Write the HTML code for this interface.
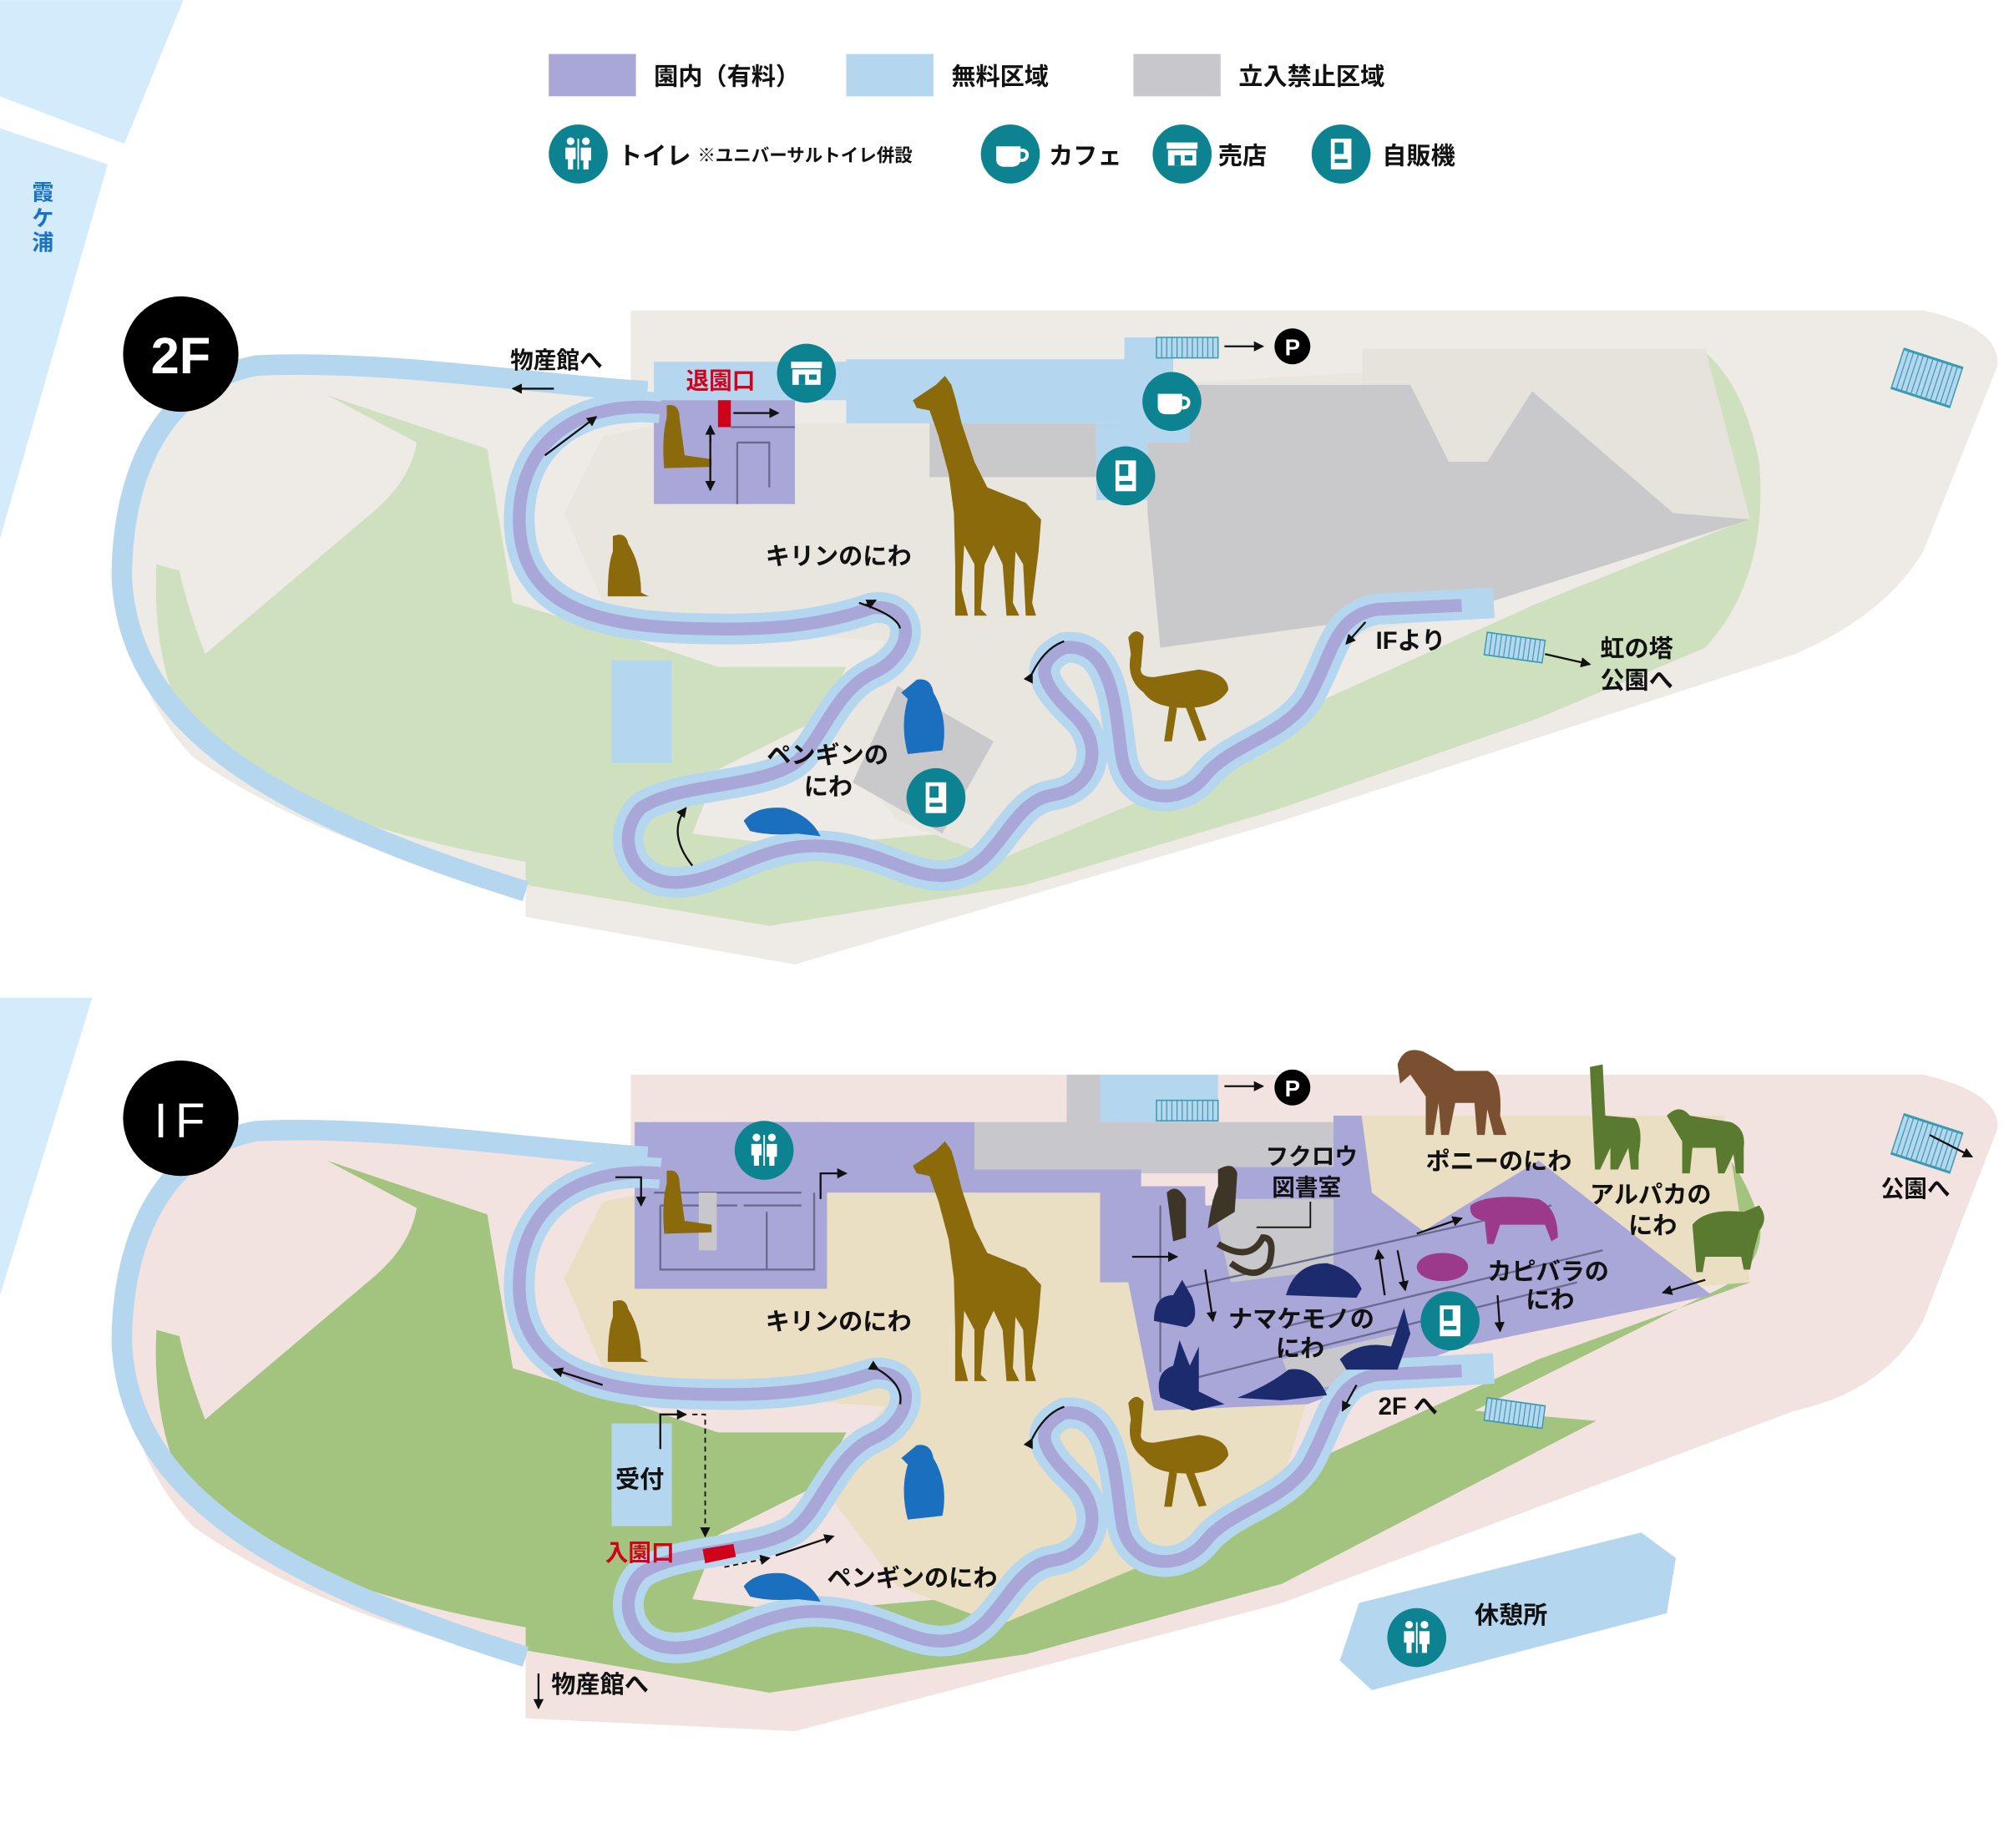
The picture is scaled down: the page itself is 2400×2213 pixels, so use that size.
<!DOCTYPE html>
<html><head><meta charset="utf-8">
<style>
html,body{margin:0;padding:0;background:#fff;}
svg{display:block;}
text{font-family:"Liberation Sans","Noto Sans CJK JP",sans-serif;font-weight:700;fill:#111;}
</style></head>
<body>
<svg width="2400" height="2213" viewBox="0 0 1563 1441" xmlns="http://www.w3.org/2000/svg">
<defs>
<marker id="ah" markerWidth="8" markerHeight="8" refX="7" refY="4" orient="auto" markerUnits="userSpaceOnUse">
<path d="M0,0 L8,4 L0,8 Z" fill="#111"/></marker>
<g id="giraffe"><path d="M712,312 L730,300 L737,293 L742,300 L745,310 L750,330 L760,360 L770,380 L800,392 L812,405 L810,430 L805,470 L808,480 L800,480 L798,440 L792,430 L790,470 L795,480 L785,480 L782,440 L775,425 L768,440 L765,475 L770,480 L760,480 L760,440 L752,425 L750,460 L755,480 L745,480 L745,440 L744,400 L740,370 L732,340 L725,320 L715,318 Z" fill="#8a6a0b"/></g>
<g id="ostrich" fill="#8a6a0b"><path d="M880,497 Q886,488 892,496 L890,520 Q888,528 900,528 L935,522 Q958,525 958,538 Q950,552 925,552 Q900,552 892,540 Q878,530 882,510 Z"/><path d="M912,550 L908,578 L914,578 L918,552 Z M925,552 L935,578 L941,577 L931,550 Z"/></g>
<g id="penguin" fill="#1a6fbf"><path d="M715,530 Q726,528 728,540 Q740,560 735,585 L708,588 Q702,565 708,545 L703,540 Z"/></g>
<g id="beaver" fill="#1a6fbf"><path d="M580,640 Q590,628 612,630 Q632,636 640,652 L622,650 Q600,652 585,648 Z"/></g>
<g id="dog" fill="#8a6a0b"><path d="M478,418 Q488,414 490,424 Q500,440 500,462 L506,465 L474,465 Q474,440 478,430 Z"/></g>
<g id="meer" fill="#8a6a0b"><path d="M520,316 Q530,314 530,326 L534,355 L555,358 L555,364 L518,365 Q516,340 520,326 Z"/></g>
<g id="river">
<path d="M515,318 C450,312 405,345 405,405 C405,470 460,488 540,490 C600,492 640,488 680,474 C715,470 715,510 680,525 C650,540 640,580 620,595 C590,615 530,610 500,630 C480,650 490,690 530,688 C570,686 600,650 660,662 C700,670 720,690 750,680 C780,670 790,625 820,620 C855,615 860,580 840,560 C820,540 800,520 830,505 C870,500 870,560 875,590 C880,625 920,630 940,605 C960,580 1000,575 1020,545 C1040,510 1040,480 1075,475 L1165,470" fill="none" stroke="#b5d6ef" stroke-width="24"/>
<path d="M515,318 C450,312 405,345 405,405 C405,470 460,488 540,490 C600,492 640,488 680,474 C715,470 715,510 680,525 C650,540 640,580 620,595 C590,615 530,610 500,630 C480,650 490,690 530,688 C570,686 600,650 660,662 C700,670 720,690 750,680 C780,670 790,625 820,620 C855,615 860,580 840,560 C820,540 800,520 830,505 C870,500 870,560 875,590 C880,625 920,630 940,605 C960,580 1000,575 1020,545 C1040,510 1040,480 1075,475 L1140,472" fill="none" stroke="#a9a6d8" stroke-width="10"/>
</g>
<g id="stair"><rect x="0" y="0" width="48" height="16" fill="#b5d6ef" stroke="#3a9ab0" stroke-width="1"/><path d="M4,0V16M8,0V16M12,0V16M16,0V16M20,0V16M24,0V16M28,0V16M32,0V16M36,0V16M40,0V16M44,0V16" stroke="#3a9ab0" stroke-width="0.8"/></g>
<g id="vend"><circle r="23" fill="#0d8391"/><rect x="-8" y="-12" width="16" height="24" fill="#fff"/><rect x="-5" y="-9" width="7" height="9" fill="#0d8391"/><rect x="-5" y="4" width="10" height="3" fill="#0d8391"/></g>
<g id="toilet"><circle r="23" fill="#0d8391"/><circle cx="-6" cy="-10" r="3" fill="#fff"/><circle cx="6" cy="-10" r="3" fill="#fff"/><path d="M-10,-5 H-2 L-2,4 H-4 V12 H-8 V4 H-10 Z M2,-5 H10 V5 H8 V12 H4 V5 H2 Z" fill="#fff"/><rect x="-0.6" y="-12" width="1.2" height="24" fill="#fff"/></g>
<g id="cafe"><circle r="23" fill="#0d8391"/><path d="M-11,-6 H8 V4 Q8,10 0,10 H-4 Q-11,10 -11,4 Z" fill="#fff"/><path d="M8,-3 Q14,-3 13,2 Q12,5 8,5" fill="none" stroke="#fff" stroke-width="2.5"/></g>
<g id="shop"><circle r="23" fill="#0d8391"/><rect x="-12" y="-9" width="24" height="5" fill="#fff"/><rect x="-11" y="-3" width="22" height="12" fill="#fff"/><rect x="-6" y="1" width="5" height="8" fill="#0d8391"/><rect x="2" y="1" width="6" height="4" fill="#0d8391"/></g>
</defs>

<polygon points="0,0 143,0 97,112 0,75" fill="#d3ebfb"/>
<polygon points="0,100 84,128 0,420" fill="#d3ebfb"/>
<polygon points="0,778 72,778 0,1010" fill="#d3ebfb"/>
<text x="25" y="156" font-size="17" style="fill:#1a73c0">霞</text>
<text x="25" y="176" font-size="17" style="fill:#1a73c0">ケ</text>
<text x="25" y="195" font-size="17" style="fill:#1a73c0">浦</text>

<rect x="428" y="42" width="68" height="33" fill="#a9a6d8"/><text x="510" y="66" font-size="19">園内（有料）</text>
<rect x="660" y="42" width="68" height="33" fill="#b5d6ef"/><text x="742" y="66" font-size="19">無料区域</text>
<rect x="884" y="42" width="68" height="33" fill="#c8c8cc"/><text x="966" y="66" font-size="19">立入禁止区域</text>
<use href="#toilet" x="451" y="120"/><text x="482" y="128" font-size="19">トイレ</text><text x="544" y="126" font-size="14">※ユニバーサルトイレ併設</text>
<use href="#cafe" x="788" y="120"/><text x="818" y="128" font-size="19">カフェ</text>
<use href="#shop" x="922" y="120"/><text x="950" y="128" font-size="19">売店</text>
<use href="#vend" x="1046" y="120"/><text x="1078" y="128" font-size="19">自販機</text>

<path d="M492,242 L1500,242 Q1560,255 1558,285 L1500,430 Q1470,480 1400,510 L1000,640 L620,752 L410,715 L410,695 Q250,660 150,590 Q95,530 95,440 Q100,330 160,295 Q230,278 400,298 L492,300 Z" fill="#eeebe6"/>
<path d="M255,308 L325,345 Q320,375 290,400 L160,510 Q145,470 140,445 L122,440 Q118,520 150,575 Q230,640 410,672 L410,690 L600,722 L800,690 L1000,630 L1200,560 L1330,505 Q1380,450 1372,360 Q1360,300 1330,275 L1330,280 L1362,405 L1200,470 L1000,560 L850,640 L620,660 L540,650 L560,600 L640,560 L660,520 L560,520 L500,500 L400,470 L380,350 Z" fill="#cfe0bf"/>
<path d="M520,330 L895,330 L895,300 L1330,275 L1362,405 L1160,470 L1040,500 L1000,560 L900,620 L780,670 L700,640 L640,560 L690,500 L560,490 L470,470 L440,400 L470,340 Z" fill="#e9e6e0"/>
<polygon points="895,300 1063,300 1063,272 1330,272 1365,405 1160,470 905,505 895,400" fill="#c9c9cc"/>
<polygon points="1063,272 1330,272 1365,405 1305,400 1195,305 1160,360 1130,360 1100,300 1063,300" fill="#e6e3dd"/>
<rect x="725" y="330" width="130" height="42" fill="#c9c9cc"/>
<polygon points="700,535 775,578 735,650 665,610" fill="#c9c9cc"/>
<rect x="510" y="282" width="150" height="30" fill="#b5d6ef"/>
<rect x="660" y="280" width="235" height="50" fill="#b5d6ef"/>
<rect x="855" y="330" width="40" height="60" fill="#b5d6ef"/>
<rect x="877" y="263" width="38" height="82" fill="#b5d6ef"/>
<rect x="895" y="300" width="33" height="45" fill="#b5d6ef"/>
<rect x="477" y="515" width="47" height="80" fill="#b5d6ef"/>
<rect x="510" y="312" width="110" height="81" fill="#a9a6d8"/>
<path d="M570,333 H620 M575,345 H600 V380 M575,345 V393" stroke="#6a6a90" stroke-width="1.5" fill="none"/>
<path d="M505,305 C420,300 300,280 200,285 C120,300 95,380 95,450 C100,560 200,630 410,695" fill="none" stroke="#b5d6ef" stroke-width="16"/>
<use href="#river"/>
<rect x="560" y="312" width="10" height="21" fill="#d0021b"/>
<use href="#stair" x="902" y="263"/>
<use href="#stair" transform="translate(1160,493) rotate(8) scale(0.95,1.1)"/>
<use href="#stair" transform="translate(1485,272) rotate(18) scale(1,2)"/>
<use href="#giraffe"/><use href="#ostrich"/><use href="#penguin"/><use href="#beaver"/><use href="#dog"/><use href="#meer"/>
<circle cx="141" cy="276" r="45" fill="#000"/><text x="141" y="291" font-size="40" text-anchor="middle" style="fill:#fff">2F</text>
<text x="398" y="287" font-size="18">物産館へ</text>
<line x1="432" y1="303" x2="400" y2="303" stroke="#111" stroke-width="1.5" marker-end="url(#ah)"/>
<text x="535" y="303" font-size="18" style="fill:#d0021b">退園口</text>
<line x1="572" y1="322" x2="607" y2="322" stroke="#111" stroke-width="1.5" marker-end="url(#ah)"/>
<line x1="554" y1="345" x2="554" y2="332" stroke="#111" stroke-width="1.5" marker-end="url(#ah)"/>
<line x1="554" y1="340" x2="554" y2="382" stroke="#111" stroke-width="1.5" marker-end="url(#ah)"/>
<use href="#shop" x="629" y="291"/><use href="#cafe" x="914" y="313"/><use href="#vend" x="878" y="371"/><use href="#vend" x="730" y="622"/>
<text x="597" y="440" font-size="19">キリンのにわ</text>
<text x="598" y="595" font-size="19">ペンギンの</text><text x="627" y="620" font-size="19">にわ</text>
<text x="1073" y="506" font-size="19">IFより</text>
<line x1="955" y1="270" x2="985" y2="270" stroke="#111" stroke-width="1.5" marker-end="url(#ah)"/>
<circle cx="1008" cy="270" r="14" fill="#000"/><text x="1008" y="277" font-size="18" text-anchor="middle" style="fill:#fff">P</text>
<text x="1248" y="512" font-size="19">虹の塔</text><text x="1248" y="537" font-size="19">公園へ</text>
<line x1="1205" y1="510" x2="1240" y2="518" stroke="#111" stroke-width="1.5" marker-end="url(#ah)"/>
<line x1="425" y1="355" x2="465" y2="325" stroke="#111" stroke-width="1.5" marker-end="url(#ah)"/>
<path d="M670,470 Q700,480 702,490" fill="none" stroke="#111" stroke-width="1.5"/><line x1="675" y1="472" x2="683" y2="468" stroke="#111" stroke-width="1.5" marker-end="url(#ah)"/>
<path d="M805,525 Q815,505 830,500" fill="none" stroke="#111" stroke-width="1.5" marker-start="url(#ah)"/>
<path d="M540,675 Q520,650 535,630" fill="none" stroke="#111" stroke-width="1.5" marker-end="url(#ah)"/>
<line x1="1065" y1="485" x2="1050" y2="502" stroke="#111" stroke-width="1.5" marker-end="url(#ah)"/>

<path d="M492,838 L1500,838 Q1560,852 1558,880 L1500,1030 Q1470,1085 1400,1100 L1000,1250 L620,1350 L410,1340 L410,1295 Q250,1260 150,1190 Q95,1130 95,1040 Q100,930 160,892 Q230,875 400,895 L492,897 Z" fill="#f2e3e0"/>
<path d="M255,905 L325,942 Q320,972 290,997 L160,1107 Q145,1067 140,1042 L122,1037 Q118,1117 150,1172 Q230,1237 410,1269 L410,1287 L600,1320 L800,1290 L1000,1235 L1245,1108 L1150,1100 L1330,1010 Q1380,990 1372,950 Q1360,915 1345,900 L1365,1000 L1200,1060 L1000,1150 L850,1237 L620,1257 L540,1247 L560,1197 L640,1157 L660,1117 L560,1117 L500,1097 L400,1067 L380,947 Z" fill="#a3c47f"/>
<path d="M520,927 L858,927 L858,1000 L880,1000 L900,1100 L1020,1090 L1000,1157 L900,1217 L780,1267 L700,1237 L640,1157 L690,1097 L560,1087 L470,1067 L440,997 L470,937 Z" fill="#ebdfc3"/>
<polygon points="1062,870 1345,870 1365,1000 1300,1005 1200,905 1110,960 1062,960" fill="#ebdfc3"/>
<rect x="508" y="875" width="67" height="50" fill="#c8c8cc"/>
<rect x="760" y="875" width="100" height="40" fill="#c8c8cc"/>
<rect x="832" y="838" width="26" height="40" fill="#c8c8cc"/>
<rect x="858" y="875" width="204" height="40" fill="#c8c8cc"/>
<rect x="495" y="875" width="150" height="130" fill="#a9a6d8"/>
<rect x="575" y="875" width="185" height="55" fill="#a9a6d8"/>
<path d="M760,912 L890,912 L890,925 L940,925 L940,1000 L858,1000 L858,930 L760,930 Z" fill="#a9a6d8"/>
<polygon points="880,940 960,940 960,910 1040,910 1040,870 1062,870 1070,930 1110,960 1200,905 1335,1010 1140,1050 1020,1095 900,1100 880,1000" fill="#a9a6d8"/>
<polygon points="945,935 1040,935 1040,990 960,1000" fill="#c8c8cc"/>
<polygon points="1000,1060 1090,1040 1080,1075 1010,1085" fill="#c8c8cc"/>
<rect x="858" y="838" width="92" height="37" fill="#b5d6ef"/>
<rect x="477" y="1110" width="47" height="80" fill="#b5d6ef"/>
<path d="M510,930 H625 M515,940 H575 M580,940 H625 M515,940 V990 H635 V930 M598,945 V990" stroke="#6a6a90" stroke-width="1.5" fill="none"/>
<rect x="545" y="930" width="14" height="45" fill="#c8c8cc"/>
<path d="M920,1005 L1210,940 M930,1075 L1230,1000 M1000,1035 L1250,975 M905,940 V1070" stroke="#6a6a90" stroke-width="1.5" fill="none"/>
<path d="M505,902 C420,897 300,877 200,882 C120,897 95,977 95,1047 C100,1157 200,1227 410,1292" fill="none" stroke="#b5d6ef" stroke-width="16"/>
<use href="#river" transform="translate(0,597)"/>
<polygon points="1060,1250 1280,1195 1307,1215 1300,1258 1070,1318 1045,1295" fill="#b5d6ef"/>
<polygon points="548,1208 572,1204 574,1214 550,1219" fill="#d0021b"/>
<use href="#stair" x="902" y="858"/>
<use href="#stair" transform="translate(1160,1090) rotate(8) scale(0.95,1.1)"/>
<use href="#stair" transform="translate(1485,869) rotate(18) scale(1,2)"/>
<g transform="translate(0,597)"><use href="#giraffe"/><use href="#ostrich"/><use href="#penguin"/><use href="#beaver"/><use href="#dog"/><use href="#meer"/></g>
<path d="M1090,830 Q1095,815 1110,820 Q1125,828 1135,835 L1160,835 Q1172,840 1170,870 L1175,885 L1165,885 L1160,865 L1158,885 L1152,885 L1150,860 L1135,860 L1130,885 L1124,885 L1122,860 L1118,885 L1112,885 L1112,855 Q1105,845 1100,838 L1092,845 Z" fill="#7a5030"/>
<path d="M1240,832 L1250,830 L1252,870 L1275,872 Q1282,880 1278,900 L1278,912 L1272,912 L1270,895 L1262,912 L1256,912 L1256,895 L1248,912 L1244,912 Z" fill="#5a7a30"/>
<path d="M1300,870 Q1310,860 1318,870 L1350,875 Q1362,880 1360,895 L1360,915 L1354,915 L1352,900 L1345,915 L1340,915 L1338,895 L1320,895 L1318,915 L1312,915 L1312,890 Z" fill="#5a7a30"/>
<path d="M1320,955 Q1330,942 1360,945 L1372,940 Q1380,950 1372,960 L1368,975 L1365,990 L1360,990 L1358,980 L1330,980 L1328,992 L1323,992 Z" fill="#5a7a30"/>
<path d="M1147,940 Q1160,930 1200,935 Q1215,942 1215,965 L1210,968 L1205,955 L1170,955 L1165,970 L1160,970 L1158,952 Q1145,950 1147,940 Z" fill="#9b3a8a"/>
<ellipse cx="1125" cy="988" rx="20" ry="11" fill="#9b3a8a"/>
<g fill="#1c2a6e">
<path d="M910,930 Q918,922 925,935 L925,965 L915,968 Z" fill="#3d3526"/>
<path d="M950,912 Q962,905 965,915 L963,945 L942,958 Q945,935 950,925 Z" fill="#3d3526"/>
<path d="M950,970 Q975,985 985,965 Q995,965 990,985 Q980,1000 960,985" fill="none" stroke="#3d3526" stroke-width="5"/>
<path d="M1003,1010 Q1010,985 1035,985 Q1055,990 1062,1005 L1058,1012 Z"/>
<path d="M900,1030 Q900,1010 915,1010 L922,998 L930,1012 Q936,1030 925,1035 Z"/>
<path d="M905,1090 Q900,1070 915,1065 L920,1045 L928,1065 L935,1050 L935,1085 L955,1095 L930,1100 Z"/>
<path d="M965,1090 Q990,1080 1005,1068 Q1025,1065 1035,1088 L1000,1092 Z"/>
<path d="M1045,1060 Q1060,1045 1085,1050 L1095,1020 L1100,1040 L1090,1068 L1050,1068 Z"/>
</g>
<circle cx="141" cy="872" r="45" fill="#000"/><text x="143" y="887" font-size="38" text-anchor="middle" letter-spacing="6" style="fill:#fff;font-weight:400">IF</text>
<use href="#toilet" x="596" y="897"/><use href="#vend" x="1131" y="1030"/><use href="#toilet" x="1105" y="1277"/>
<line x1="955" y1="847" x2="985" y2="847" stroke="#111" stroke-width="1.5" marker-end="url(#ah)"/>
<circle cx="1008" cy="848" r="14" fill="#000"/><text x="1008" y="855" font-size="18" text-anchor="middle" style="fill:#fff">P</text>
<text x="987" y="908" font-size="18">フクロウ</text><text x="992" y="932" font-size="18">図書室</text>
<path d="M1022,937 V957 H980" stroke="#111" stroke-width="1.2" fill="none"/>
<text x="1112" y="912" font-size="19">ポニーのにわ</text>
<text x="1240" y="938" font-size="19">アルパカの</text><text x="1270" y="962" font-size="19">にわ</text>
<text x="1160" y="998" font-size="19">カピバラの</text><text x="1190" y="1020" font-size="19">にわ</text>
<text x="958" y="1035" font-size="19">ナマケモノの</text><text x="995" y="1058" font-size="19">にわ</text>
<text x="1075" y="1103" font-size="19">2F へ</text>
<text x="480" y="1160" font-size="19">受付</text>
<text x="472" y="1217" font-size="18" style="fill:#d0021b">入園口</text>
<text x="645" y="1237" font-size="19">ペンギンのにわ</text>
<text x="597" y="1037" font-size="19">キリンのにわ</text>
<text x="1150" y="1266" font-size="19">休憩所</text>
<text x="430" y="1320" font-size="19">物産館へ</text>
<text x="1467" y="933" font-size="18">公園へ</text>
<line x1="1505" y1="885" x2="1538" y2="902" stroke="#111" stroke-width="1.5" marker-end="url(#ah)"/>
<line x1="420" y1="1305" x2="420" y2="1332" stroke="#111" stroke-width="1.5" marker-end="url(#ah)"/>
<line x1="1058" y1="1080" x2="1047" y2="1100" stroke="#111" stroke-width="1.5" marker-end="url(#ah)"/>
<line x1="883" y1="980" x2="918" y2="980" stroke="#111" stroke-width="1.5" marker-end="url(#ah)"/>
<line x1="940" y1="990" x2="946" y2="1030" stroke="#111" stroke-width="1.5" marker-end="url(#ah)"/>
<line x1="1080" y1="1010" x2="1075" y2="975" stroke="#111" stroke-width="1.5" marker-end="url(#ah)"/>
<line x1="1090" y1="975" x2="1096" y2="1006" stroke="#111" stroke-width="1.5" marker-end="url(#ah)"/>
<line x1="1105" y1="962" x2="1140" y2="950" stroke="#111" stroke-width="1.5" marker-end="url(#ah)"/>
<line x1="1168" y1="1010" x2="1170" y2="1038" stroke="#111" stroke-width="1.5" marker-end="url(#ah)"/>
<line x1="1330" y1="998" x2="1297" y2="1008" stroke="#111" stroke-width="1.5" marker-end="url(#ah)"/>
<path d="M480,918 H500 V940" fill="none" stroke="#111" stroke-width="1.5" marker-end="url(#ah)"/>
<path d="M640,935 V915 H660" fill="none" stroke="#111" stroke-width="1.5" marker-end="url(#ah)"/>
<path d="M515,1130 V1103 H535" fill="none" stroke="#111" stroke-width="1.5" marker-end="url(#ah)"/>
<path d="M540,1103 H550 V1198" fill="none" stroke="#111" stroke-width="1.2" stroke-dasharray="4,3" marker-end="url(#ah)"/>
<line x1="565" y1="1222" x2="600" y2="1215" stroke="#111" stroke-width="1.2" stroke-dasharray="4,3" marker-end="url(#ah)"/>
<line x1="605" y1="1213" x2="650" y2="1198" stroke="#111" stroke-width="1.5" marker-end="url(#ah)"/>
<line x1="470" y1="1080" x2="432" y2="1068" stroke="#111" stroke-width="1.5" marker-end="url(#ah)"/>
<path d="M685,1068 Q705,1080 702,1095" fill="none" stroke="#111" stroke-width="1.5" marker-start="url(#ah)"/>
<path d="M805,1122 Q815,1102 830,1097" fill="none" stroke="#111" stroke-width="1.5" marker-start="url(#ah)"/>
</svg>
</body></html>
